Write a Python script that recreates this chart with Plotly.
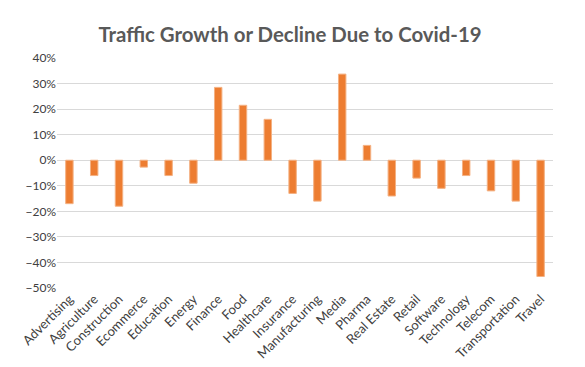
import plotly.graph_objects as go

categories = ["Advertising", "Agriculture", "Construction", "Ecommerce", "Education",
              "Energy", "Finance", "Food", "Healthcare", "Insurance", "Manufacturing",
              "Media", "Pharma", "Real Estate", "Retail", "Software", "Technology",
              "Telecom", "Transportation", "Travel"]
growth = [-0.17, -0.06, -0.18, -0.027, -0.06, -0.09, 0.285, 0.215, 0.16, -0.13, -0.16,
          0.337, 0.058, -0.14, -0.07, -0.11, -0.06, -0.12, -0.16, -0.455]
tick_vals = [0.4, 0.3, 0.2, 0.1, 0.0, -0.1, -0.2, -0.3, -0.4, -0.5]

fig = go.Figure(go.Bar(
    x=categories, y=growth, width=0.3,
    marker=dict(color="#ED7D31", line=dict(color="#F4B183", width=1)),
))

font_family = "Lato, 'Open Sans', sans-serif"
W, H = 585, 367
fig.update_layout(
    width=W, height=H,
    margin=dict(l=49, r=40, t=50, b=87, autoexpand=False),
    paper_bgcolor="white", plot_bgcolor="white",
    title=dict(text="<b>Traffic Growth or Decline Due to Covid-19</b>",
               x=(290 - 8) / W, xanchor="center", y=1 - 27 / H, yanchor="middle",
               font=dict(family=font_family, size=20.4, color="#595959")),
    showlegend=False,
)
fig.update_yaxes(range=[-0.5, 0.4], tickvals=tick_vals, tickformat=".0%",
                 showgrid=True, gridcolor="#D9D9D9", gridwidth=1,
                 zeroline=True, zerolinecolor="#D9D9D9", zerolinewidth=1,
                 showline=False, ticks="", automargin=False,
                 tickfont=dict(family=font_family, size=12, color="#404040"))
fig.update_xaxes(tickangle=-45, showgrid=False, showline=False, ticks="", automargin=False,
                 tickfont=dict(family=font_family, size=13, color="#404040"))

fig.write_html("out.html")
